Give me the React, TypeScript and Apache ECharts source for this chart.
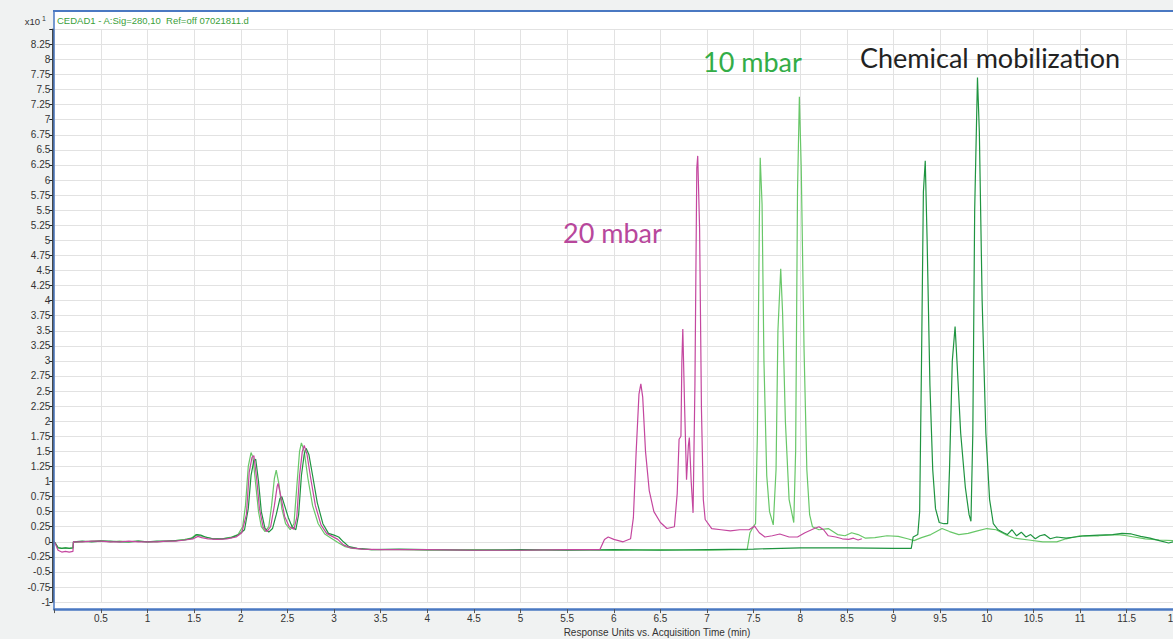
import React, { useEffect, useRef } from "react";
import * as echarts from "echarts";

// Axis ranges (minutes / response units x10^1)
const X_MIN = 0;
const X_MAX = 12;
const X_STEP = 0.5;
const Y_MIN = -1;
const Y_MAX = 8.5;
const Y_STEP = 0.25;

const seriesNames = ["10 mbar", "Chemical mobilization", "20 mbar"];
const titleText = "CEDAD1 - A:Sig=280,10  Ref=off 07021811.d";
const xAxisName = "Response Units vs. Acquisition Time (min)";

// 10 mbar trace (light green)
const mbar10: [number, number][] = [
  [0, 0], [0.01, -0.02], [0.04, -0.09], [0.08, -0.11], [0.12, -0.1], [0.16, -0.11], [0.2, -0.1],
  [0.205, -0.01], [0.3, 0.0], [0.4, 0.01], [0.5, 0.02], [0.6, 0.0], [0.7, 0.01], [0.8, 0.0],
  [0.9, 0.01], [1.0, 0.0], [1.1, 0.0], [1.2, 0.01], [1.3, 0.02], [1.4, 0.04], [1.47, 0.06],
  [1.52, 0.12], [1.56, 0.1], [1.62, 0.08], [1.7, 0.05], [1.8, 0.05], [1.9, 0.08], [1.97, 0.12],
  [2.02, 0.25], [2.05, 0.6], [2.08, 1.25], [2.11, 1.48], [2.13, 1.4], [2.16, 0.95], [2.19, 0.5],
  [2.22, 0.25], [2.26, 0.17], [2.3, 0.25], [2.33, 0.6], [2.36, 1.05], [2.38, 1.19], [2.41, 0.95],
  [2.44, 0.55], [2.48, 0.3], [2.53, 0.2], [2.57, 0.3], [2.6, 0.9], [2.63, 1.5], [2.65, 1.64],
  [2.68, 1.5], [2.72, 1.05], [2.77, 0.6], [2.83, 0.3], [2.9, 0.13], [2.97, 0.06], [3.05, -0.02],
  [3.12, -0.08], [3.2, -0.11], [3.4, -0.13], [3.7, -0.13], [4.0, -0.14], [4.5, -0.13], [5.0, -0.14],
  [5.5, -0.13], [6.0, -0.14], [6.5, -0.13], [7.0, -0.14], [7.3, -0.13], [7.43, -0.13], [7.46, 0.15],
  [7.5, 0.26], [7.52, 0.3], [7.54, 1.8], [7.56, 5.2], [7.57, 6.37], [7.59, 5.6], [7.61, 3.0],
  [7.64, 1.1], [7.67, 0.5], [7.71, 0.28], [7.74, 1.2], [7.76, 3.5], [7.79, 4.53], [7.81, 3.8],
  [7.84, 2.0], [7.88, 0.7], [7.93, 0.32], [7.95, 1.5], [7.97, 5.8], [7.99, 7.38], [8.01, 6.2],
  [8.04, 3.2], [8.07, 1.2], [8.1, 0.45], [8.13, 0.25], [8.2, 0.2], [8.3, 0.22], [8.4, 0.12],
  [8.48, 0.1], [8.55, 0.15], [8.62, 0.12], [8.7, 0.06], [8.8, 0.07], [8.93, 0.1], [9.05, 0.09],
  [9.15, 0.05], [9.22, 0.02], [9.3, 0.07], [9.4, 0.12], [9.52, 0.22], [9.6, 0.17], [9.7, 0.12],
  [9.8, 0.14], [9.9, 0.18], [10.0, 0.22], [10.1, 0.2], [10.2, 0.12], [10.3, 0.06], [10.45, 0.03],
  [10.6, 0.0], [10.75, 0.0], [10.85, 0.05], [11.0, 0.1], [11.2, 0.1], [11.4, 0.12], [11.5, 0.1],
  [11.7, 0.05], [11.85, 0.03], [12, 0.02],
];

// Chemical mobilization trace (dark green)
const chemMob: [number, number][] = [
  [0, 0], [0.01, -0.02], [0.04, -0.1], [0.08, -0.11], [0.12, -0.1], [0.16, -0.11], [0.2, -0.1],
  [0.205, 0.0], [0.3, 0.01], [0.4, 0.0], [0.5, 0.01], [0.6, 0.01], [0.7, 0.0], [0.8, 0.0],
  [0.9, 0.01], [1.0, 0.0], [1.1, 0.01], [1.2, 0.01], [1.3, 0.02], [1.4, 0.03], [1.48, 0.06],
  [1.53, 0.12], [1.57, 0.11], [1.62, 0.08], [1.7, 0.05], [1.8, 0.05], [1.9, 0.07], [1.98, 0.12],
  [2.04, 0.2], [2.08, 0.55], [2.11, 1.1], [2.14, 1.35], [2.16, 1.37], [2.19, 1.0], [2.22, 0.5],
  [2.26, 0.22], [2.3, 0.16], [2.34, 0.22], [2.38, 0.45], [2.42, 0.72], [2.44, 0.75], [2.47, 0.6],
  [2.51, 0.4], [2.55, 0.25], [2.59, 0.2], [2.62, 0.45], [2.65, 1.1], [2.68, 1.45], [2.7, 1.55],
  [2.73, 1.45], [2.77, 1.1], [2.82, 0.65], [2.88, 0.3], [2.94, 0.14], [3.0, 0.11], [3.05, 0.08],
  [3.1, 0.0], [3.16, -0.08], [3.25, -0.11], [3.4, -0.13], [3.7, -0.12], [4.0, -0.13], [4.5, -0.14],
  [5.0, -0.13], [5.5, -0.14], [6.0, -0.13], [6.5, -0.14], [7.0, -0.13], [7.5, -0.12], [8.0, -0.1],
  [8.5, -0.1], [9.0, -0.11], [9.19, -0.11], [9.21, 0.08], [9.26, 0.12], [9.28, 0.5], [9.3, 3.0],
  [9.32, 5.8], [9.34, 6.32], [9.36, 5.0], [9.39, 2.6], [9.42, 1.2], [9.45, 0.55], [9.49, 0.32],
  [9.54, 0.3], [9.58, 0.3], [9.6, 1.2], [9.63, 3.0], [9.66, 3.57], [9.68, 3.0], [9.72, 1.8],
  [9.77, 0.9], [9.81, 0.45], [9.83, 0.34], [9.85, 1.8], [9.87, 5.5], [9.9, 7.7], [9.92, 6.8],
  [9.95, 4.0], [9.99, 1.8], [10.03, 0.7], [10.07, 0.3], [10.12, 0.2], [10.18, 0.15], [10.22, 0.12],
  [10.27, 0.2], [10.32, 0.1], [10.37, 0.16], [10.42, 0.08], [10.47, 0.12], [10.52, 0.05],
  [10.57, 0.1], [10.62, 0.12], [10.68, 0.05], [10.75, 0.08], [10.85, 0.06], [10.95, 0.08],
  [11.05, 0.1], [11.2, 0.11], [11.35, 0.12], [11.45, 0.14], [11.55, 0.13], [11.65, 0.09],
  [11.75, 0.06], [11.85, 0.02], [11.95, -0.02], [12, 0.0],
];

// 20 mbar trace (magenta)
const mbar20: [number, number][] = [
  [0, 0], [0.01, -0.03], [0.04, -0.14], [0.08, -0.17], [0.12, -0.16], [0.16, -0.17], [0.2, -0.16],
  [0.205, 0.0], [0.3, 0.0], [0.4, 0.01], [0.5, 0.01], [0.6, 0.0], [0.7, 0.0], [0.8, 0.01],
  [0.9, 0.0], [1.0, 0.0], [1.1, 0.0], [1.2, 0.01], [1.3, 0.01], [1.4, 0.03], [1.49, 0.05],
  [1.54, 0.09], [1.58, 0.07], [1.65, 0.05], [1.75, 0.04], [1.85, 0.05], [1.95, 0.08], [2.01, 0.15],
  [2.06, 0.45], [2.09, 1.15], [2.12, 1.4], [2.14, 1.43], [2.17, 1.05], [2.2, 0.55], [2.24, 0.24],
  [2.28, 0.17], [2.32, 0.25], [2.36, 0.6], [2.39, 0.92], [2.4, 0.97], [2.43, 0.75], [2.47, 0.42],
  [2.52, 0.25], [2.57, 0.21], [2.6, 0.4], [2.63, 1.1], [2.66, 1.5], [2.68, 1.6], [2.71, 1.45],
  [2.75, 1.05], [2.8, 0.6], [2.86, 0.28], [2.92, 0.14], [2.98, 0.09], [3.04, 0.04], [3.1, -0.05],
  [3.18, -0.1], [3.3, -0.12], [3.5, -0.13], [4.0, -0.13], [4.5, -0.14], [5.0, -0.14], [5.5, -0.13],
  [5.85, -0.13], [5.9, 0.04], [5.94, 0.08], [6.0, 0.04], [6.1, 0.0], [6.18, 0.05], [6.21, 0.4],
  [6.24, 1.5], [6.27, 2.45], [6.29, 2.62], [6.31, 2.4], [6.34, 1.5], [6.38, 0.85], [6.43, 0.5],
  [6.5, 0.32], [6.57, 0.22], [6.65, 0.25], [6.68, 0.8], [6.7, 1.7], [6.72, 1.75], [6.73, 3.0],
  [6.74, 3.53], [6.76, 2.2], [6.78, 1.03], [6.8, 1.6], [6.81, 1.73], [6.83, 1.0], [6.85, 0.48],
  [6.87, 2.6], [6.89, 6.2], [6.9, 6.4], [6.92, 5.2], [6.94, 2.2], [6.96, 0.7], [6.98, 0.37],
  [7.05, 0.22], [7.15, 0.2], [7.25, 0.18], [7.35, 0.2], [7.45, 0.2], [7.51, 0.26], [7.56, 0.15],
  [7.62, 0.08], [7.7, 0.1], [7.78, 0.13], [7.88, 0.08], [7.97, 0.08], [8.05, 0.15], [8.15, 0.22],
  [8.2, 0.25], [8.25, 0.2], [8.3, 0.1], [8.38, 0.08], [8.45, 0.05], [8.52, 0.04], [8.57, 0.06],
  [8.62, 0.03], [8.66, 0.05],
];

const seriesColors = ["#68c768", "#1f9440", "#c4479f"];

export default function App() {
  const ref = useRef<HTMLDivElement>(null);

  useEffect(() => {
    if (!ref.current) return;
    const chart = echarts.init(ref.current, null, { renderer: "svg" });
    const axisFont = "'Liberation Sans', Arial, sans-serif";
    const annFont = "Lato, 'Open Sans', sans-serif";
    const datasets = [mbar10, chemMob, mbar20];

    chart.setOption({
      animation: false,
      backgroundColor: "#f0f2f2",
      grid: {
        left: 54.3,
        top: 29.3,
        width: 1119,
        height: 572.8,
        containLabel: false,
        outerBoundsMode: "none",
      },
      xAxis: {
        type: "value",
        min: X_MIN,
        max: X_MAX,
        interval: X_STEP,
        offset: 7,
        axisLine: { show: true, onZero: false, lineStyle: { color: "#4a78c2", width: 2.5 } },
        axisTick: { show: true, length: 4, lineStyle: { color: "#555" } },
        axisLabel: {
          fontSize: 10,
          color: "#333",
          fontFamily: axisFont,
          margin: 4,
          hideOverlap: false,
          formatter: (v: number) => (v === 0 ? "" : String(+v.toFixed(2))),
        },
        splitLine: { show: true, lineStyle: { color: "#e2e2e2", width: 1 } },
      },
      yAxis: {
        type: "value",
        min: Y_MIN,
        max: Y_MAX,
        interval: Y_STEP,
        offset: 2,
        axisLine: { show: true, onZero: false, lineStyle: { color: "#111", width: 1.5 } },
        axisTick: { show: true, length: 3, lineStyle: { color: "#222" } },
        axisLabel: {
          fontSize: 10,
          color: "#333",
          fontFamily: axisFont,
          margin: 2,
          formatter: (v: number) => (v >= 8.5 ? "" : String(+v.toFixed(2))),
        },
        splitLine: { show: true, lineStyle: { color: "#e2e2e2", width: 1 } },
      },
      series: datasets.map((d, i) => ({
        name: seriesNames[i],
        type: "line",
        data: d,
        showSymbol: false,
        symbol: "none",
        lineStyle: { color: seriesColors[i], width: 1.2 },
        z: 3 + i,
      })),
      graphic: [
        {
          type: "rect",
          z: -10,
          shape: { x: 54, y: 11, width: 1125, height: 598 },
          style: { fill: "#ffffff" },
        },
        {
          type: "line",
          z: 10,
          shape: { x1: 53, y1: 11, x2: 1180, y2: 11 },
          style: { stroke: "#4a78c2", lineWidth: 2 },
        },
        {
          type: "line",
          z: 10,
          shape: { x1: 54, y1: 11, x2: 54, y2: 609 },
          style: { stroke: "#4a78c2", lineWidth: 1.5 },
        },
        {
          type: "text",
          z: 10,
          x: 57,
          y: 20,
          style: {
            text: titleText,
            fill: "#3aa03a",
            font: `9.5px ${axisFont}`,
            textVerticalAlign: "middle",
          },
        },
        {
          type: "text",
          z: 10,
          x: 40,
          y: 21,
          style: {
            text: "x10",
            fill: "#333",
            font: `9.5px ${axisFont}`,
            textAlign: "right",
            textVerticalAlign: "middle",
          },
        },
        {
          type: "text",
          z: 10,
          x: 42,
          y: 18,
          style: {
            text: "1",
            fill: "#333",
            font: `7px ${axisFont}`,
            textVerticalAlign: "middle",
          },
        },
        {
          type: "text",
          z: 10,
          x: 657,
          y: 632,
          style: {
            text: xAxisName,
            fill: "#333",
            font: `10px ${axisFont}`,
            textAlign: "center",
            textVerticalAlign: "middle",
          },
        },
        {
          type: "text",
          z: 10,
          x: 703,
          y: 61,
          style: {
            text: seriesNames[0],
            fill: "#33ad47",
            font: `27px ${annFont}`,
            textVerticalAlign: "middle",
          },
        },
        {
          type: "text",
          z: 10,
          x: 860,
          y: 57,
          style: {
            text: seriesNames[1],
            fill: "#222222",
            font: `27px ${annFont}`,
            textVerticalAlign: "middle",
          },
        },
        {
          type: "text",
          z: 10,
          x: 563,
          y: 232,
          style: {
            text: seriesNames[2],
            fill: "#b8479c",
            font: `27px ${annFont}`,
            textVerticalAlign: "middle",
          },
        },
      ],
    });

    return () => chart.dispose();
  }, []);

  return (
    <div
      ref={ref}
      style={{ position: "fixed", left: 0, top: 0, width: 1173, height: 639 }}
    />
  );
}
